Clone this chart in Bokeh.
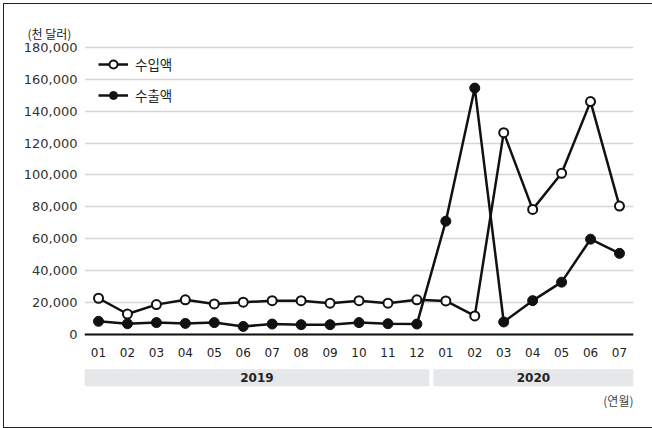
from bokeh.plotting import figure
from bokeh.models import (Range1d, FixedTicker, NumeralTickFormatter, Legend, LegendItem,
                          Label, ColumnDataSource, InlineStyleSheet, LinearAxis, Title)
from bokeh.core.properties import value
from bokeh.embed import file_html
from bokeh.resources import INLINE

# ---- data ----
months = ["01", "02", "03", "04", "05", "06", "07", "08", "09", "10", "11", "12",
          "01", "02", "03", "04", "05", "06", "07"]
years = ["2019", "2020"]
year_month_counts = [12, 7]
imports = [22500, 12600, 18500, 21500, 18900, 20000, 21000, 21000, 19400, 21000, 19400, 21500,
           20800, 11400, 126500, 78300, 101000, 146000, 80400]
exports = [8000, 6500, 7200, 6700, 7200, 4800, 6300, 5900, 5900, 7200, 6500, 6300,
           70900, 154500, 7600, 21000, 32600, 59600, 50700]
y_ticks = [0, 20000, 40000, 60000, 80000, 100000, 120000, 140000, 160000, 180000]
series_names = ["수입액", "수출액"]
unit_y = "(천 달러)"
unit_x = "(연월)"

KFONT = "Noto Sans CJK KR"
NFONT = "DejaVu Sans"
TXT = "#222222"
xs = list(range(len(months)))
pad = 0.484

# the figure's own title is an empty spacer at the very top
p = figure(width=652, height=428, output_backend="svg", toolbar_location=None,
           x_range=Range1d(-pad, len(months) - 1 + pad), y_range=Range1d(-48000, 182500),
           x_axis_location=None, min_border_left=84, min_border_right=19,
           min_border_top=0, min_border_bottom=18,
           title=Title(text=" ", text_font_size="1px", standoff=17))
p.outline_line_color = None
p.background_fill_color = "white"
p.border_fill_color = "white"

unit_title = Title(text=unit_y, text_font=KFONT, text_font_size="12px", text_font_style="normal",
                   text_color=TXT, align="left", offset=-57, standoff=4)
p.add_layout(unit_title, "above")

# grid
p.xgrid.visible = False
p.ygrid.ticker = FixedTicker(ticks=y_ticks)
p.ygrid.grid_line_color = "#d6d6d6"
p.ygrid.grid_line_width = 1.5

# y axis
p.yaxis.ticker = FixedTicker(ticks=y_ticks)
p.yaxis.formatter = NumeralTickFormatter(format="0,0")
p.yaxis.axis_line_color = None
p.yaxis.major_tick_line_color = None
p.yaxis.major_tick_out = 0
p.yaxis.minor_tick_line_color = None
p.yaxis.major_label_text_font = NFONT
p.yaxis.major_label_text_font_size = "13px"
p.yaxis.major_label_text_color = "#333333"
p.yaxis.major_label_standoff = 7

# x axis at y=0
xaxis = LinearAxis(fixed_location=0, ticker=FixedTicker(ticks=xs),
                   major_label_overrides={i: m for i, m in enumerate(months)})
xaxis.axis_line_color = "#111111"
xaxis.axis_line_width = 2
xaxis.major_tick_line_color = None
xaxis.major_tick_out = 0
xaxis.minor_tick_line_color = None
xaxis.major_label_text_font = NFONT
xaxis.major_label_text_font_size = "12px"
xaxis.major_label_text_color = TXT
xaxis.major_label_standoff = 14
p.add_layout(xaxis, "below")

# year bands
lefts, rights, centers = [], [], []
start = 0
for i, c in enumerate(year_month_counts):
    end = start + c - 1
    l = start - (pad if i == 0 else 0.43)
    r = end + (pad if i == len(year_month_counts) - 1 else 0.43)
    lefts.append(l)
    rights.append(r)
    centers.append((l + r) / 2)
    start += c
p.quad(left=lefts, right=rights, bottom=-32800, top=-22100, fill_color="#e6e7e9", line_color=None)
p.text(x=centers, y=[-27450] * len(years), text=years, text_align="center", text_baseline="middle",
       text_font=value(NFONT), text_font_size="12px", text_font_style="bold", text_color=TXT)

p.add_layout(Label(x=len(months) - 1 + pad, y=-41700, text=unit_x, text_align="right",
                   text_baseline="middle", text_font=KFONT, text_font_size="12px", text_color="#444444"))

# series
src = ColumnDataSource(dict(x=xs, imp=imports, exp=exports))
l1 = p.line("x", "imp", source=src, line_color="#111111", line_width=2.5)
s1 = p.scatter("x", "imp", source=src, size=9, fill_color="white", line_color="#111111", line_width=2)
l2 = p.line("x", "exp", source=src, line_color="#111111", line_width=2.5)
s2 = p.scatter("x", "exp", source=src, size=10, fill_color="#111111", line_color="#111111", line_width=1)

legend = Legend(items=[LegendItem(label=series_names[0], renderers=[l1, s1]),
                       LegendItem(label=series_names[1], renderers=[l2, s2])],
                location=(14, 305), orientation="vertical")
legend.glyph_width = 30
legend.glyph_height = 20
legend.label_height = 20
legend.spacing = 11
legend.padding = 0
legend.margin = 0
legend.label_standoff = 7
legend.label_text_font = KFONT
legend.label_text_font_size = "13.5px"
legend.label_text_color = TXT
legend.background_fill_alpha = 0
legend.border_line_alpha = 0
p.add_layout(legend, "center")

p.stylesheets = [InlineStyleSheet(css="""
:host { position: relative; }
:host::after { content: ''; position: absolute; left: 3px; top: 3px; width: 649px; height: 425px;
  box-sizing: border-box; border: 1.5px solid #222; border-right: none; pointer-events: none; }
""")]

open("out.html", "w").write(file_html(p, INLINE))
